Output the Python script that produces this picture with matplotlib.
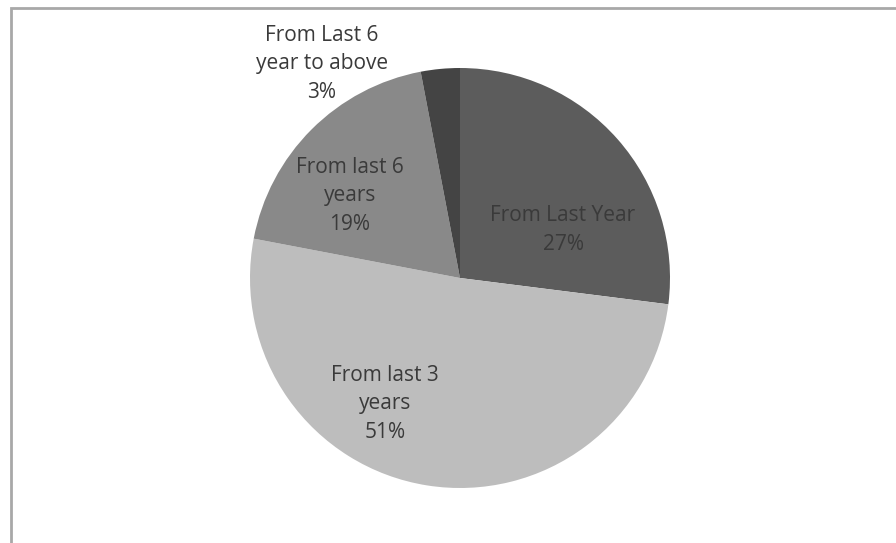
import matplotlib.pyplot as plt
from matplotlib.patches import Rectangle

labels = ['From Last Year', 'From last 3\nyears', 'From last 6\nyears', 'From Last 6\nyear to above']
shares = [27, 51, 19, 3]
colors = ['#5c5c5c', '#bdbdbd', '#898989', '#444444']
label_xy = [(563, 313), (385, 139), (350, 347), (322, 479)]

fig = plt.figure(figsize=(8.96, 5.43), dpi=100)
ax = fig.add_axes([0, 0, 1, 1])

ax.pie(shares, colors=colors, startangle=90, counterclock=False,
       center=(460, 265), radius=210, frame=True,
       wedgeprops=dict(linewidth=0))
ax.set_xlim(0, 896)
ax.set_ylim(0, 543)
ax.set_aspect('equal')
ax.axis('off')

for name, v, (x, y) in zip(labels, shares, label_xy):
    ax.text(x, y, f'{name}\n{v}%', ha='center', va='center', fontsize=15,
            color='#3a3a3a', family='Open Sans', linespacing=1.45)

# chart area border (left and top edges)
fig.patches.append(Rectangle((11 / 896, -0.01), 1.0, (543 - 8) / 543 + 0.01,
                             transform=fig.transFigure, fill=False,
                             edgecolor='#a8a8a8', linewidth=2))

fig.savefig('out.png', dpi=100)
